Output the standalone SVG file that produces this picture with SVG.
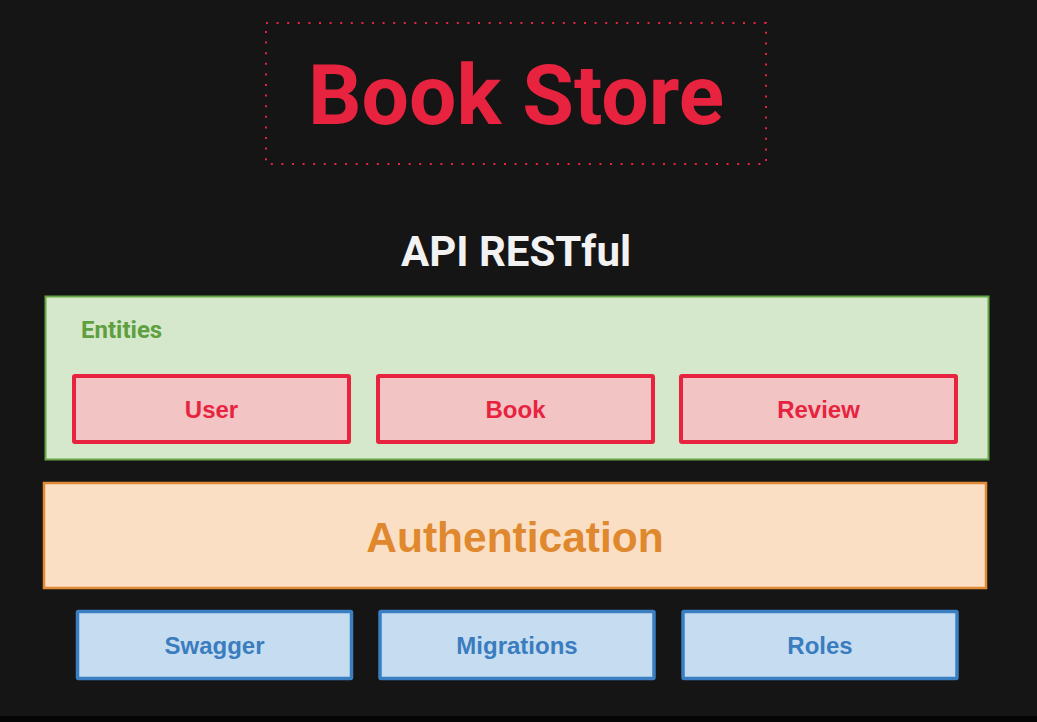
<svg xmlns="http://www.w3.org/2000/svg" width="1037" height="722" viewBox="0 0 1037 722">
<style>
.title{font-family:Roboto,"Liberation Sans",sans-serif;font-weight:bold;text-anchor:middle}
.lbl{font-family:"Liberation Sans",Arial,sans-serif;font-weight:bold;text-anchor:middle;font-size:24px}
.ent{fill:#f2c4c4;stroke:#e8233f;stroke-width:4}
.ent-t{fill:#e8233f}
.tool{fill:#c6dcf0;stroke:#3a7fc2;stroke-width:3.5}
.tool-t{fill:#3a7dbf}
</style>
<rect x="0" y="0" width="1037" height="722" fill="#151515"/>
<rect x="0" y="716" width="1037" height="6" fill="#050505"/>
<g id="title">
<rect x="266" y="23" width="500" height="141" fill="none" stroke="#e8233f" stroke-width="2" stroke-dasharray="2 8.6"/>
<text class="title" x="516" y="124" font-size="84" fill="#e8233f">Book Store</text>
</g>
<g id="api">
<text class="title" x="516" y="266" font-size="42" fill="#f2f2f2">API RESTful</text>
</g>
<g id="entities">
<rect x="45.5" y="296.5" width="943" height="163" fill="#d5e8cc" stroke="#67a547" stroke-width="2"/>
<text x="81" y="338" font-family="Roboto,'Liberation Sans',sans-serif" font-weight="bold" font-size="24" fill="#5ea040">Entities</text>
</g>
<g id="user">
<rect class="ent" x="74" y="376" width="275" height="66" rx="1"/>
<text class="lbl ent-t" x="211.5" y="418">User</text>
</g>
<g id="book">
<rect class="ent" x="378" y="376" width="275" height="66" rx="1"/>
<text class="lbl ent-t" x="515.5" y="418">Book</text>
</g>
<g id="review">
<rect class="ent" x="681" y="376" width="275" height="66" rx="1"/>
<text class="lbl ent-t" x="818.5" y="418">Review</text>
</g>
<g id="authentication">
<rect x="44" y="483" width="942" height="105" fill="#fbdfc5" stroke="#e08a35" stroke-width="2.5"/>
<text class="lbl" x="515" y="552" style="font-size:42.5px" fill="#e0882e">Authentication</text>
</g>
<g id="swagger">
<rect class="tool" x="77.5" y="611.5" width="274" height="67" rx="1"/>
<text class="lbl tool-t" x="214.5" y="654">Swagger</text>
</g>
<g id="migrations">
<rect class="tool" x="380" y="611.5" width="274" height="67" rx="1"/>
<text class="lbl tool-t" x="517" y="654">Migrations</text>
</g>
<g id="roles">
<rect class="tool" x="683" y="611.5" width="274" height="67" rx="1"/>
<text class="lbl tool-t" x="820" y="654">Roles</text>
</g>
<g id="connectors"/>
</svg>
